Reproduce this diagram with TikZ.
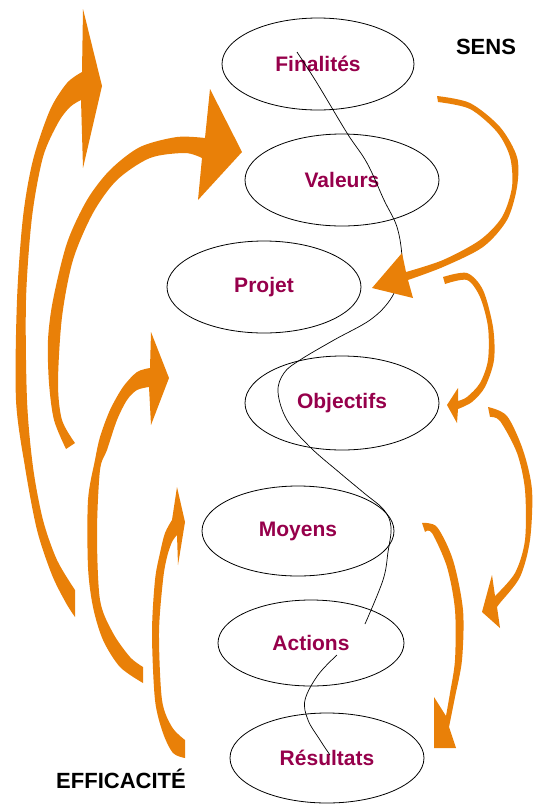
\documentclass[tikz,border=0pt]{standalone}
\usepackage{fontspec}
\setmainfont{Liberation Sans}
\usetikzlibrary{shapes.geometric}
\definecolor{lbl}{RGB}{150,0,75}
\definecolor{flow}{RGB}{233,128,8}

\begin{document}
\begin{tikzpicture}[x=1pt, y=-1pt,
    etape/.style={ellipse, draw, line width=0.8pt, inner sep=0pt, text=lbl,
        font=\fontsize{21}{25}\selectfont\bfseries},
    titre/.style={font=\fontsize{22}{26}\selectfont\bfseries},
    fleche/.style={fill=flow},
    fil/.style={line width=0.7pt}]
    \useasboundingbox (0,0) rectangle (534,804);

    % the seven steps
    \node[etape, minimum width=192pt, minimum height=92pt] (fin) at (318,64) {Finalités};
    \node[etape, minimum width=194pt, minimum height=92pt] (val) at (342,180) {Valeurs};
    \node[etape, minimum width=194pt, minimum height=92pt] (proj) at (264,287) {Projet};
    \node[etape, minimum width=194pt, minimum height=94pt] (obj) at (342,403) {Objectifs};
    \node[etape, minimum width=192pt, minimum height=90pt] (moy) at (298,531) {Moyens};
    \node[etape, minimum width=186pt, minimum height=86pt] (act) at (311,643) {Actions};
    \node[etape, minimum width=194pt, minimum height=90pt] (res) at (327,758) {Résultats};

    \node[titre] (sens) at (486,47) {SENS};
    \node[titre] (effic) at (121,779) {EFFICACITÉ};

    % the thread
    \draw[fil] plot[smooth, tension=0.6] coordinates {(297,52) (317,83) (347,133) (367,163)
        (384,200) (397,227) (402,257) (400,277) (390,300) (370,320) (334,340) (300,360)
        (284,373) (278,392) (287,420) (310,447) (340,473) (364,493) (384,510) (391,527)
        (388,552) (383,580) (365,624)};
    \draw[fil] plot[smooth, tension=0.6] coordinates {(337,655) (318,675) (305,700)
        (308,720) (320,740) (330,755)};

    % left arrows, going up
    \fill[fleche] plot[smooth] coordinates {(75,617) (66,603) (52,575) (37,530) (25,467)
        (16,400) (17,300) (23,217) (33,160) (50,110) (67,83) (82,72)}
        -- (83,9) -- (102,86) -- (83,168) -- (81,100)
        -- plot[smooth] coordinates {(81,100) (70,107) (58,123) (43,157) (32,217) (26,300)
        (27,400) (33,467) (43,520) (57,560) (75,590)} -- cycle;
    \fill[fleche] plot[smooth] coordinates {(66,449) (54,420) (49,383) (48,340) (53,300)
        (67,243) (87,200) (110,170) (140,147) (177,137) (205,138)}
        -- (210,89) -- (242,152) -- (198,200) -- (202,158)
        -- plot[smooth] coordinates {(202,158) (185,153) (150,158) (117,180) (93,213)
        (73,260) (62,317) (58,383) (62,420) (75,443)} -- cycle;
    \fill[fleche] plot[smooth] coordinates {(143,683) (120,667) (103,640) (93,607) (88,567)
        (88,500) (95,460) (100,437) (110,410) (123,387) (137,372) (150,368)}
        -- (151,332) -- (169,378) -- (151,425) -- (149,387)
        -- plot[smooth] coordinates {(149,387) (137,390) (127,400) (117,420) (107,450)
        (100,470) (97,533) (100,600) (113,633) (130,657) (143,667)} -- cycle;
    \fill[fleche] plot[smooth] coordinates {(185,758) (173,753) (163,733) (155,700)
        (152,633) (155,580) (160,553) (165,533) (172,520)}
        -- (177,487) -- (185,522) -- (178,565) -- (177,535)
        -- plot[smooth] coordinates {(177,535) (172,542) (167,557) (163,580) (159,633)
        (162,700) (172,727) (185,740)} -- cycle;

    % right arrows, going down
    \fill[fleche] plot[smooth] coordinates {(437,96) (470,103) (500,127) (517,157) (517,187)
        (507,220) (483,247) (443,267) (408,280)}
        -- (413,298) -- (372,288) -- (402,253) -- (406,272)
        -- plot[smooth] coordinates {(406,272) (443,260) (480,240) (502,217) (512,187)
        (510,157) (497,132) (470,109) (438,102)} -- cycle;
    \fill[fleche] plot[smooth] coordinates {(443,277) (467,273) (483,290) (493,327)
        (494,360) (485,387) (472,402) (458,409)}
        -- (457,423) -- (447,405) -- (458,388) -- (458,401)
        -- plot[smooth] coordinates {(458,401) (467,397) (480,383) (488,360) (488,327)
        (480,297) (467,280) (445,284)} -- cycle;
    \fill[fleche] plot[smooth] coordinates {(488,407) (507,416) (523,450) (532,490)
        (530,540) (520,577) (500,603) (497,607)}
        -- (500,628) -- (482,612) -- (492,575) -- (495,596)
        -- plot[smooth] coordinates {(495,596) (515,573) (525,540) (525,490) (517,453)
        (500,421) (490,417)} -- cycle;
    \fill[fleche] plot[smooth] coordinates {(422,523) (437,527) (453,560) (463,610)
        (462,660) (455,697) (449,727)}
        -- (456,748) -- (434,748) -- (434,697) -- (446,716)
        -- plot[smooth] coordinates {(446,716) (450,693) (455,660) (455,610) (447,567)
        (432,533) (425,532)} -- cycle;
\end{tikzpicture}
\end{document}
